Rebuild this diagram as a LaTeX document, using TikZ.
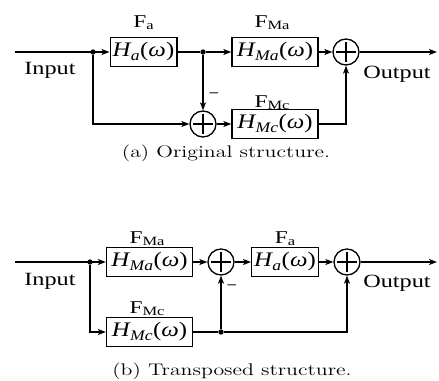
\documentclass[tikz,border=0pt]{standalone}
\usepackage{fontspec}
\usepackage{graphicx}
\usetikzlibrary{arrows.meta}
\newfontfamily\labfont{Liberation Serif}
\newfontfamily\capfont[FakeStretch=1.3]{Latin Modern Roman}
% widened text, transfer function inside a block, filter name above it
\newcommand\widetxt[2][1.3]{\scalebox{#1}[1]{#2}}
\newcommand\Hw[1]{\widetxt[1.2]{\textit{H}\kern-0.5pt\raisebox{-0.35ex}{\fontsize{11}{11}\selectfont\textit{#1}}\kern0.3pt(\textit{ω})}}
\newcommand\Fn[1]{\widetxt{F\raisebox{-0.35ex}{\fontsize{9.5}{9.5}\selectfont #1}}}

\begin{document}
\begin{tikzpicture}[x=0.75pt,y=-0.75pt,line width=1pt,>={Stealth[length=6pt,width=4.5pt,inset=1.5pt]},
  blk/.style={draw,inner sep=0pt,minimum width=50pt,minimum height=21.5pt,font=\labfont\fontsize{15.5}{15.5}\selectfont},
  wide/.style={minimum width=64.5pt},
  sum/.style={draw,circle,inner sep=0pt,minimum size=19.5pt,
    path picture={\draw[line width=0.8pt] ([yshift=-2pt]path picture bounding box.north) -- ([yshift=2pt]path picture bounding box.south)
      ([xshift=2pt]path picture bounding box.west) -- ([xshift=-2pt]path picture bounding box.east);}},
  dot/.style={circle,fill,inner sep=0pt,minimum size=4pt},
  lab/.style={anchor=base,inner sep=0pt,font=\labfont\fontsize{14}{14}\selectfont},
  flab/.style={anchor=base,inner sep=0pt,font=\labfont\fontsize{13.5}{13.5}\selectfont},
  captxt/.style={anchor=base,inner sep=0pt,font=\capfont\fontsize{12.6}{12.6}\selectfont}]
\useasboundingbox (0,0) rectangle (439,380);

% (a) original structure
\coordinate (a-in) at (15,52);
\node[dot] (a-d1) at (93,52) {};
\node[blk] (a-fa) at (143.5,52) {\Hw{a}};
\node[dot] (a-d2) at (203,52) {};
\node[blk,wide] (a-fma) at (275,52) {\Hw{Ma}};
\node[sum] (a-s2) at (346,52) {};
\coordinate (a-out) at (437,52);
\node[sum] (a-s1) at (203,124) {};
\node[blk,wide] (a-fmc) at (275,124) {\Hw{Mc}};

\node[flab] (a-lfa) at (143.5,27) {\Fn{a}};
\node[flab] (a-lfma) at (272,27) {\Fn{Ma}};
\node[flab] (a-lfmc) at (272,107) {\Fn{Mc}};
\node[lab] (a-lin) at (50,74) {\widetxt{Input}};
\node[lab] (a-lout) at (397,78) {\widetxt{Output}};
\node[lab] (a-neg) at (214,99) {\textminus};

\draw[->] (a-in) -- (a-fa);
\draw (a-fa) -- (a-d2);
\draw[->] (a-d2) -- (a-fma);
\draw[->] (a-fma) -- (a-s2);
\draw[->] (a-s2) -- (a-out);
\draw[->] (a-d1) |- (a-s1);
\draw[->] (a-d2) -- (a-s1);
\draw[->] (a-s1) -- (a-fmc);
\draw[->] (a-fmc) -| (a-s2);

\node[captxt] (a-cap) at (226,157) {(a) Original structure.};

% (b) transposed structure
\coordinate (b-in) at (15,262);
\node[dot] (b-d1) at (90,262) {};
\node[blk,wide] (b-fma) at (149.5,262) {\Hw{Ma}};
\node[sum] (b-s1) at (221,262) {};
\node[blk] (b-fa) at (285,262) {\Hw{a}};
\node[sum] (b-s2) at (347,262) {};
\coordinate (b-out) at (437,262);
\node[blk,wide] (b-fmc) at (149.5,332) {\Hw{Mc}};
\node[dot] (b-d2) at (221,332) {};

\node[flab] (b-lfma) at (147,243) {\Fn{Ma}};
\node[flab] (b-lfa) at (285,243) {\Fn{a}};
\node[flab] (b-lfmc) at (147,313) {\Fn{Mc}};
\node[lab] (b-lin) at (50,285) {\widetxt{Input}};
\node[lab] (b-lout) at (397,287) {\widetxt{Output}};
\node[lab] (b-neg) at (232,291) {\textminus};

\draw[->] (b-in) -- (b-fma);
\draw[->] (b-fma) -- (b-s1);
\draw[->] (b-s1) -- (b-fa);
\draw[->] (b-fa) -- (b-s2);
\draw[->] (b-s2) -- (b-out);
\draw[->] (b-d1) |- (b-fmc);
\draw (b-fmc) -- (b-d2);
\draw[->] (b-d2) -- (b-s1);
\draw[->] (b-d2) -| (b-s2);

\node[captxt] (b-cap) at (232,375) {(b) Transposed structure.};
\end{tikzpicture}
\end{document}
